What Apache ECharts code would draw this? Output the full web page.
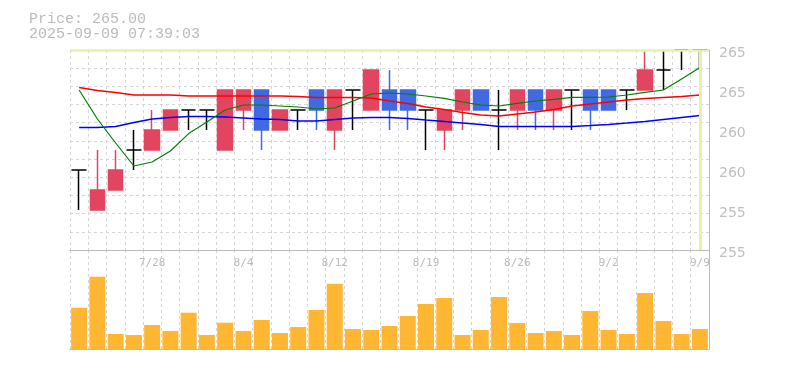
<!DOCTYPE html>
<html>
<head>
<meta charset="utf-8">
<script src="https://cdn.jsdelivr.net/npm/echarts@6/dist/echarts.min.js"></script>
<style>
html,body{margin:0;padding:0;background:#fff;}
#chart{width:785px;height:370px;}
</style>
</head>
<body>
<div id="chart"></div>
<script>
// ---- data ----
const lastPrice = '265.00';
const timestamp = '2025-09-09 07:39:03';
const dates = ['7/22','7/23','7/24','7/25','7/28','7/29','7/30','7/31','8/1','8/4','8/5','8/6','8/7','8/8','8/12','8/13','8/14','8/15','8/18','8/19','8/20','8/21','8/22','8/25','8/26','8/27','8/28','8/29','9/1','9/2','9/3','9/4','9/5','9/8','9/9'];
const xTickLabels = ['7/28','8/4','8/12','8/19','8/26','9/2','9/9'];
const opens  = [259,257,258,260,260,261,262,262,260,262,263,261,262,263,261,263,262,263,263,262,261,262,263,262,262,263,262,263,263,263,263,263,264,265,265];
const closes = [259,258,259,260,261,262,262,262,263,263,261,262,262,262,263,263,264,262,262,262,262,263,262,262,263,262,263,263,262,262,263,264,264,265,265];
const lows   = [257,257,258,259,260,261,261,261,260,261,260,261,261,261,260,261,262,261,261,260,260,261,262,260,261,261,261,261,261,262,262,263,263,264,264];
const highs  = [259,260,260,261,262,262,262,262,263,263,263,262,262,263,263,263,264,264,263,262,262,263,263,263,263,263,263,263,263,263,263,265,265,265,265];
const maShort = [263.0,261.55,260.35,259.2,259.4,259.95,260.82,261.4,262.0,262.25,262.25,262.2,262.15,262.05,262.1,262.45,262.8,262.85,262.8,262.7,262.58,262.4,262.25,262.2,262.33,262.45,262.53,262.63,262.63,262.65,262.75,262.88,263.0,263.55,264.13];
const maMid   = [263.13,262.98,262.87,262.75,262.75,262.75,262.7,262.7,262.7,262.7,262.7,262.7,262.68,262.63,262.63,262.63,262.6,262.45,262.33,262.15,262.02,261.87,261.75,261.7,261.8,261.9,262.03,262.2,262.3,262.4,262.5,262.58,262.63,262.68,262.75];
const maLong  = [261.13,261.12,261.18,261.38,261.55,261.63,261.67,261.67,261.65,261.6,261.55,261.53,261.45,261.45,261.53,261.6,261.63,261.62,261.58,261.5,261.43,261.35,261.27,261.17,261.18,261.18,261.18,261.18,261.22,261.28,261.35,261.43,261.53,261.63,261.72];
const volumes = [41300,72300,15000,14000,24000,18000,36300,14000,26300,18000,29000,16000,22000,39000,65300,20000,19000,23000,33000,45000,51000,14000,19000,52000,26000,16000,18000,14000,38000,19000,15000,56000,28000,15000,20000];
const priceTicks = [255,257,259,261,263,265];
const priceTickLabels = ['255','255','260','260','265','265'];
const currentPrice = 265;

// ---- chart ----
const candles = opens.map((o, i) => [o, closes[i], lows[i], highs[i]]);
const gridColor = '#d6d6d6';
const axisColor = '#bbbbbb';
const chart = echarts.init(document.getElementById('chart'), null, {renderer: 'canvas'});
const dashed = {show: true, lineStyle: {color: gridColor, type: [3, 3], width: 1}};

chart.setOption({
  animation: false,
  backgroundColor: '#ffffff',
  title: {
    text: 'Price: ' + lastPrice + '\n' + timestamp,
    left: 29, top: 12, padding: 0,
    textStyle: {fontFamily: 'Liberation Mono', fontSize: 15, fontWeight: 'normal', color: '#bbbbbb', lineHeight: 14.5}
  },
  grid: [
    {left: 70, right: 76, top: 50, height: 200},
    {left: 70, right: 76, top: 250, height: 99}
  ],
  xAxis: [
    {type: 'category', data: dates, gridIndex: 0, position: 'bottom', boundaryGap: true,
      axisLine: {show: true, lineStyle: {color: axisColor, width: 1}}, axisTick: {show: false},
      axisLabel: {show: false}, splitLine: Object.assign({interval: 0}, dashed)},
    {type: 'category', data: dates, gridIndex: 1, position: 'top', boundaryGap: true,
      axisLine: {show: false}, axisTick: {show: false},
      axisLabel: {show: true, inside: true, margin: 8,
        interval: (i, v) => xTickLabels.indexOf(v) >= 0,
        fontFamily: 'DejaVu Sans Mono', fontSize: 11, color: '#bbbbbb'},
      splitLine: Object.assign({interval: 0}, dashed)},
    {type: 'category', data: dates, gridIndex: 1, position: 'bottom', boundaryGap: true,
      axisLine: {show: true, lineStyle: {color: axisColor, width: 1}}, axisTick: {show: false},
      axisLabel: {show: false}, splitLine: {show: false}}
  ],
  yAxis: [
    {type: 'value', gridIndex: 0, position: 'right', min: priceTicks[0], max: priceTicks[priceTicks.length - 1], interval: priceTicks[1] - priceTicks[0],
      axisLine: {show: true, lineStyle: {color: axisColor, width: 1}}, axisTick: {show: false},
      splitLine: {show: false},
      axisLabel: {show: true, margin: 10, verticalAlign: 'top', lineHeight: 7,
        formatter: v => priceTickLabels[priceTicks.indexOf(v)],
        fontFamily: 'DejaVu Sans', fontSize: 14, color: '#c0c0c0'}},
    {type: 'value', gridIndex: 0, position: 'right', min: 0, max: 11, interval: 1,
      axisLine: {show: false}, axisTick: {show: false}, axisLabel: {show: false},
      splitLine: dashed},
    {type: 'value', gridIndex: 1, position: 'right', min: 0, max: 99000,
      axisLine: {show: true, lineStyle: {color: axisColor, width: 1}}, axisTick: {show: false},
      axisLabel: {show: false}, splitLine: {show: false}}
  ],
  series: [
    {type: 'line', name: 'MA mid', xAxisIndex: 0, yAxisIndex: 0, data: maMid, showSymbol: false, symbol: 'none',
      lineStyle: {color: '#ff0000', width: 1.5}, silent: true,
      markLine: {silent: true, symbol: ['none', 'none'], label: {show: false},
        data: [
          {yAxis: currentPrice, lineStyle: {color: '#e3f3ab', width: 2.5, type: 'solid'}},
          {xAxis: dates[dates.length - 1], lineStyle: {color: '#e3f3ab', width: 3, type: 'solid'}}
        ]}},
    {type: 'line', name: 'MA long', xAxisIndex: 0, yAxisIndex: 0, data: maLong, showSymbol: false, symbol: 'none',
      lineStyle: {color: '#0000ff', width: 1.5}, silent: true},
    {type: 'line', name: 'MA short', xAxisIndex: 0, yAxisIndex: 0, data: maShort, showSymbol: false, symbol: 'none',
      lineStyle: {color: '#008000', width: 1.2}, silent: true},
    {type: 'candlestick', xAxisIndex: 0, yAxisIndex: 0, data: candles, barWidth: 15,
      itemStyle: {color: '#e2455f', color0: '#4169e1', borderColor: '#e2455f', borderColor0: '#4169e1', borderColorDoji: '#000000', borderWidth: 1.5}},
    {type: 'bar', xAxisIndex: 1, yAxisIndex: 2, data: volumes, barWidth: 16,
      itemStyle: {color: '#ffb733'}}
  ]
});
</script>
</body>
</html>
